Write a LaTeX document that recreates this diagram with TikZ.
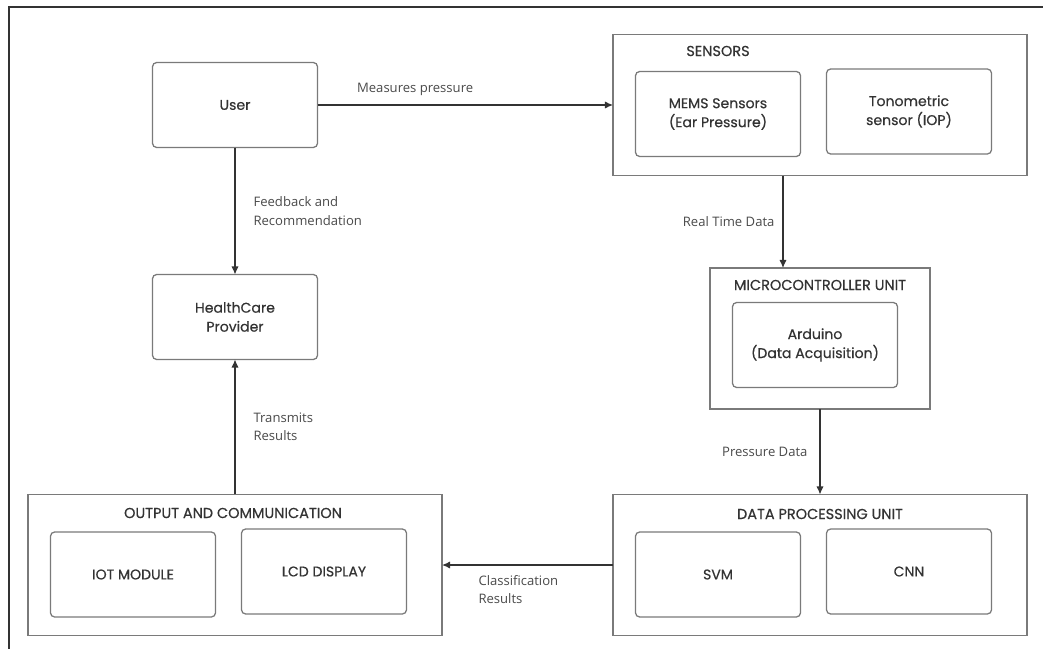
\documentclass[tikz,border=0pt]{standalone}
\usepackage{fontspec}
\setmainfont{Poppins}[RawFeature={embolden=0.5}]
\newfontfamily\lblfont{Open Sans}
\usetikzlibrary{arrows.meta}

\definecolor{boxgray}{HTML}{7A7A7A}
\definecolor{txtgray}{HTML}{333333}
\definecolor{lblgray}{HTML}{4A4A4A}

\begin{document}
\begin{tikzpicture}[x=0.025cm, y=-0.025cm,
	main/.style = {draw=boxgray, line width=0.9pt, rounded corners=3pt, minimum width=4.125cm, minimum height=2.125cm, inner sep=0pt, outer sep=0pt, align=center, text=txtgray, font=\fontsize{10}{13.5}\selectfont},
	group/.style = {draw=boxgray, line width=0.9pt, minimum height=3.525cm, inner sep=0pt, outer sep=0pt},
	title/.style = {text=txtgray, inner sep=0pt, font=\fontsize{10.3}{12}\selectfont},
	lbl/.style = {text=lblgray, inner sep=0pt, align=left, font=\lblfont\fontsize{9.3}{13}\selectfont},
	flow/.style = {-{Latex[length=2mm,width=1.8mm]}, draw=txtgray, line width=0.8pt}]
	\useasboundingbox (0,0) rectangle (1043,649);
	\draw[txtgray, line width=0.8pt] (9,649) -- (9,7) -- (1043,7);
	% left column
	\node[main] (1) at (235,105) {User};
	\node[main] (2) at (235,317) {HealthCare\\Provider};
	% sensors
	\node[group, minimum width=10.35cm] (3) at (820,105) {};
	\node[title] at (718,51) {SENSORS};
	\node[main] (3a) at (718,114) {MEMS Sensors\\(Ear Pressure)};
	\node[main] (3b) at (909,111.5) {Tonometric\\sensor (IOP)};
	% microcontroller
	\node[group, minimum width=5.5cm] (4) at (820,338.5) {};
	\node[title] at (820,285) {MICROCONTROLLER UNIT};
	\node[main] (4a) at (815,345) {Arduino\\(Data Acquisition)};
	% processing
	\node[group, minimum width=10.35cm] (5) at (820,565) {};
	\node[title] at (820,514) {DATA PROCESSING UNIT};
	\node[main] (5a) at (718,574.5) {SVM};
	\node[main] (5b) at (909,571.5) {CNN};
	% output
	\node[group, minimum width=10.35cm] (6) at (235,565) {};
	\node[title] at (233,513) {OUTPUT AND COMMUNICATION};
	\node[main] (6a) at (133,574.5) {IOT MODULE};
	\node[main] (6b) at (324,571.5) {LCD DISPLAY};

	\draw[flow] (1) -- (3) node[lbl, pos=0.132, anchor=south west, yshift=0.22cm] {Measures pressure};
	\draw[flow] (1) -- (2) node[lbl, midway, anchor=west, xshift=0.45cm] {Feedback and\\Recommendation};
	\draw[flow] ([xshift=-0.925cm]3.south) -- ([xshift=-0.925cm]4.north) node[lbl, midway, anchor=east, xshift=-0.2cm] {Real Time Data};
	\draw[flow] (4) -- (5) node[lbl, midway, anchor=east, xshift=-0.3cm] {Pressure Data};
	\draw[flow] (5) -- (6) node[lbl, pos=0.79, anchor=north west, yshift=-0.25cm] {Classification\\Results};
	\draw[flow] (6) -- (2) node[lbl, midway, anchor=west, xshift=0.45cm] {Transmits\\Results};
\end{tikzpicture}
\end{document}
